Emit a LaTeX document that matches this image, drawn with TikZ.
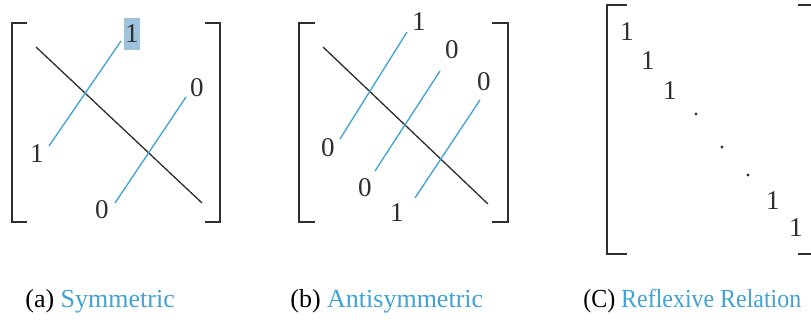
\documentclass[tikz,border=0pt]{standalone}
\usepackage{fontspec}
\setmainfont{Liberation Serif}
\usepackage{xcolor}
\usetikzlibrary{positioning}
\definecolor{MatBlue}{HTML}{3FA2D6}
\definecolor{MatGray}{HTML}{2E2E2E}
\definecolor{MatShade}{HTML}{9EC4DD}
\tikzset{
    % Matrix entries
    entry/.style={
        inner sep=0pt,
        text=MatGray,
        font=\fontsize{15.4}{18}\selectfont
    },
    shadedentry/.style={
        entry,
        fill=MatShade,
        inner xsep=0.5pt,
        inner ysep=4pt
    },
    dotmark/.style={
        circle,
        fill=MatGray,
        inner sep=0pt,
        minimum size=1.8pt
    },
    % Line styles
    bracket/.style={
        draw=MatGray,
        line width=0.9pt
    },
    diagline/.style={
        draw=MatGray,
        line width=0.75pt
    },
    blueline/.style={
        draw=MatBlue,
        line width=0.75pt
    },
    % Captions
    caption/.style={
        anchor=base west,
        inner sep=0pt,
        font=\fontsize{14.8}{17}\selectfont
    }
}
\begin{document}
\begin{tikzpicture}[x=0.02cm, y=-0.02cm]
    \useasboundingbox (0,0) rectangle (811,327);

    % (a) Symmetric
    \draw[bracket] (27,23) -- (12,23) -- (12,222) -- (27,222);
    \draw[bracket] (205,23) -- (220,23) -- (220,222) -- (205,222);
    \coordinate (a-diag-s) at (36,47);
    \coordinate (a-diag-e) at (202,203);
    \draw[diagline] (a-diag-s) -- (a-diag-e);
    \coordinate (a-l1-s) at (49,146);
    \coordinate (a-l1-e) at (121,41);
    \coordinate (a-l2-s) at (115,203);
    \coordinate (a-l2-e) at (186,97);
    \draw[blueline] (a-l1-s) -- (a-l1-e);
    \draw[blueline] (a-l2-s) -- (a-l2-e);
    \node[shadedentry] (a-up1) at (132,34) {1};
    \node[entry] (a-lo1) at (37,154) {1};
    \node[entry] (a-up2) at (197,88) {0};
    \node[entry] (a-lo2) at (102,210) {0};

    % (b) Antisymmetric
    \draw[bracket] (315,23) -- (299,23) -- (299,222) -- (315,222);
    \draw[bracket] (492,23) -- (508,23) -- (508,222) -- (492,222);
    \coordinate (b-diag-s) at (323,47);
    \coordinate (b-diag-e) at (488,204);
    \draw[diagline] (b-diag-s) -- (b-diag-e);
    \coordinate (b-l1-s) at (340,139);
    \coordinate (b-l1-e) at (407,32);
    \coordinate (b-l2-s) at (375,171);
    \coordinate (b-l2-e) at (440,71);
    \coordinate (b-l3-s) at (415,198);
    \coordinate (b-l3-e) at (480,100);
    \draw[blueline] (b-l1-s) -- (b-l1-e);
    \draw[blueline] (b-l2-s) -- (b-l2-e);
    \draw[blueline] (b-l3-s) -- (b-l3-e);
    \node[entry] (b-up1) at (419,22) {1};
    \node[entry] (b-lo1) at (328,148) {0};
    \node[entry] (b-up2) at (452,50) {0};
    \node[entry] (b-lo2) at (365,188) {0};
    \node[entry] (b-up3) at (484,82) {0};
    \node[entry] (b-lo3) at (397,213) {1};

    % (C) Reflexive Relation
    \draw[bracket] (627,5) -- (607,5) -- (607,254) -- (627,254);
    \draw[bracket] (798,5) -- (813,5) -- (813,254) -- (798,254);
    \node[entry] (c-e1) at (627,32) {1};
    \node[entry] (c-e2) at (648,61) {1};
    \node[entry] (c-e3) at (670,91) {1};
    \node[dotmark] (c-d1) at (696,114) {};
    \node[dotmark] (c-d2) at (722,147) {};
    \node[dotmark] (c-d3) at (748,175) {};
    \node[entry] (c-e4) at (773,201) {1};
    \node[entry] (c-e5) at (796,228) {1};

    % Captions
    \node[caption] (cap-a) at (25,308) {(a) \textcolor{MatBlue}{Symmetric}};
    \node[caption] (cap-b) at (290,308) {(b) \textcolor{MatBlue}{Antisymmetric}};
    \node[caption] (cap-c) at (583,308) {\scalebox{0.92}[1]{(C) \textcolor{MatBlue}{Reflexive Relation}}};
\end{tikzpicture}
\end{document}
